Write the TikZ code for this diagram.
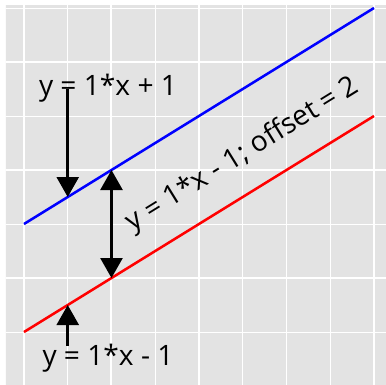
\documentclass[tikz,border=0pt]{standalone}
\usepackage{fontspec}
\setmainfont{Open Sans}
\usetikzlibrary{arrows.meta, positioning}
\definecolor{panelgrey}{RGB}{227, 227, 227}

\begin{document}
\begin{tikzpicture}[
            x=2.1875cm, y=1.35cm,
            major/.style={draw=white, line width=1.4pt},
            minor/.style={draw=white, line width=0.6pt},
            fitline/.style={line width=1.8pt},
            lbl/.style={inner sep=0pt, font=\fontsize{20}{24}\selectfont},
            arrow/.style={-{Triangle[length=0.5cm, width=0.55cm]}, line width=1.8pt, black}
        ]
            \useasboundingbox (-2.274,-3.981) rectangle (2.137,3.148);
            % panel and grid
            \begin{scope}
                \clip (-2.206,3.037) rectangle (2.137,-3.981);
                \fill[panelgrey] (-2.3,3.1) rectangle (2.3,-4.1);
                \foreach \gx in {-1.5,-0.5,0.5,1.5}
                    \draw[minor] (\gx,3.1) -- (\gx,-4.1);
                \foreach \gy in {-3,-1,1,3}
                    \draw[minor] (-2.3,\gy) -- (2.3,\gy);
                \foreach \gx in {-2,...,2}
                    \draw[major] (\gx,3.1) -- (\gx,-4.1);
                \foreach \gy in {-2,0,2}
                    \draw[major] (-2.3,\gy) -- (2.3,\gy);
            \end{scope}

            % the two lines
            \coordinate (blueA) at (-2,-1);
            \coordinate (blueB) at (2,3);
            \coordinate (redA) at (-2,-3);
            \coordinate (redB) at (2,1);
            \draw[fitline, blue] (blueA) -- (blueB);
            \draw[fitline, red] (redA) -- (redB);

            % labels
            \node[lbl] (upperlbl) at (-1.04,1.52) {y = 1*x + 1};
            \node[lbl] (lowerlbl) at (-1.04,-3.48) {y = 1*x - 1};
            \node[lbl, rotate=31.7] (offsetlbl) at (0.5,0.28) {y = 1*x - 1; offset = 2};

            % arrows
            \coordinate (upperTail) at (-1.5,1.5);
            \coordinate (upperTip) at (-1.5,-0.5);
            \coordinate (lowerTail) at (-1.5,-3.25);
            \coordinate (lowerTip) at (-1.5,-2.5);
            \coordinate (gapTop) at (-1,0);
            \coordinate (gapBottom) at (-1,-2);
            \draw[arrow] (upperTail) -- (upperTip);
            \draw[arrow] (lowerTail) -- (lowerTip);
            \draw[arrow, {Triangle[length=0.5cm, width=0.55cm]}-{Triangle[length=0.5cm, width=0.55cm]}] (gapTop) -- (gapBottom);
        \end{tikzpicture}
\end{document}
